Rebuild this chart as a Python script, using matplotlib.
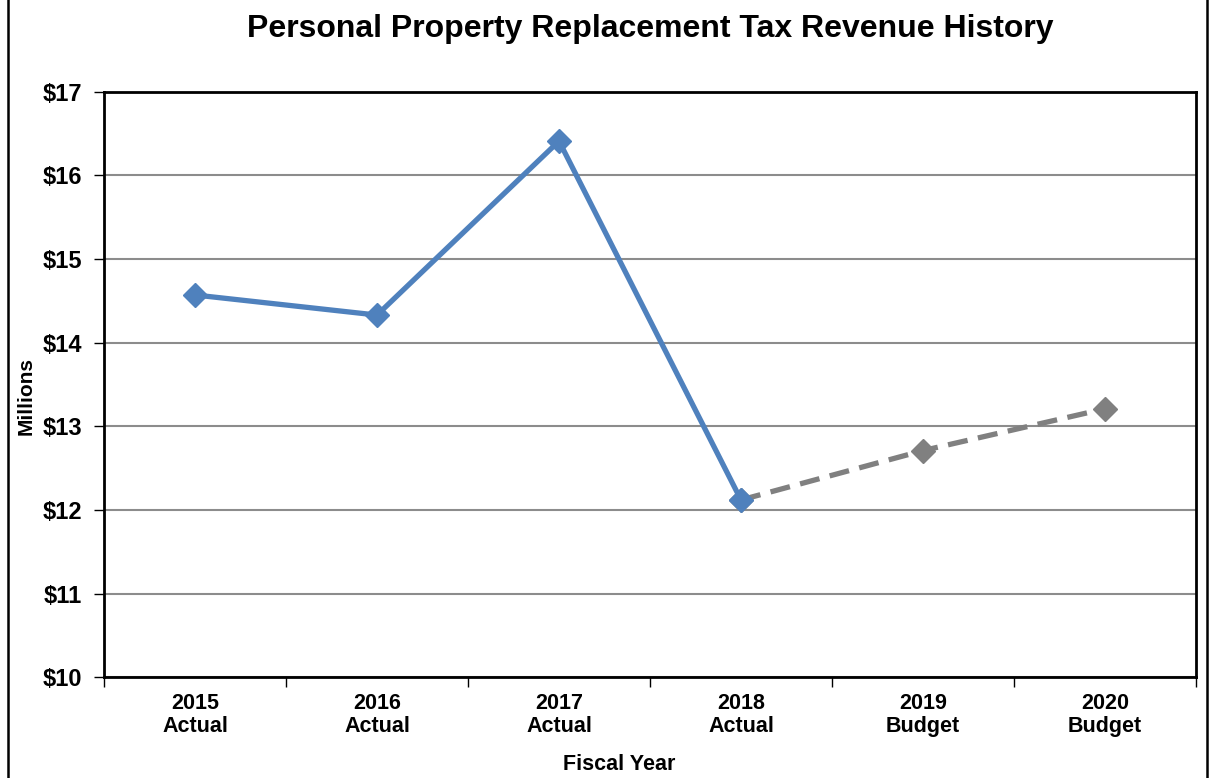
import matplotlib
matplotlib.use("Agg")
import matplotlib.pyplot as plt
from matplotlib.patches import Rectangle

# revenue, millions of dollars
years = ["2015\nActual", "2016\nActual", "2017\nActual", "2018\nActual", "2019\nBudget", "2020\nBudget"]
actual = [14.57, 14.33, 16.41, 12.12]
budget = [12.12, 12.71, 13.21]

plt.rcParams['font.family'] = ['Liberation Sans', 'DejaVu Sans']
plt.rcParams['font.weight'] = 'bold'

fig = plt.figure(figsize=(12.12, 7.78), dpi=100)
ax = fig.add_axes([104 / 1212, 1 - 677.3 / 778, 1092 / 1212, 585.6 / 778])

x_act = list(range(len(actual)))
x_bud = list(range(len(actual) - 1, len(years)))

ax.plot(x_bud, budget, color='#808080', lw=3.8, ls=(0, (3.8, 2.0)), marker='D', ms=12.5, zorder=3)
ax.plot(x_act, actual, color='#4F81BD', lw=3.8, marker='D', ms=12.5, zorder=4)

ax.set_xlim(-0.5, len(years) - 0.5)
ax.set_ylim(10, 17)
ax.set_yticks(range(10, 18))
ax.set_yticklabels(['${}'.format(v) for v in range(10, 18)], fontsize=17, fontweight='bold')
ax.set_xticks(range(len(years)))
ax.set_xticklabels(years, fontsize=15.5, fontweight='bold', linespacing=1.15)
ax.set_xticks([i - 0.5 for i in range(len(years) + 1)], minor=True)
ax.tick_params(axis='x', which='major', length=0, pad=11)
ax.tick_params(axis='x', which='minor', length=7, width=1, direction='out')
ax.tick_params(axis='y', length=7, width=1, direction='out', pad=9)

ax.grid(axis='y', color='#8c8c8c', lw=1.5)
ax.set_axisbelow(True)
for s in ax.spines.values():
    s.set_linewidth(2)
    s.set_color('black')

# axis titles sit where the original puts them, not centred on the axes
fig.text(26 / 1212, 1 - 396 / 778, 'Millions', rotation=90, ha='center', va='center',
         fontsize=15, fontweight='bold')
fig.text(619 / 1212, 1 - 764 / 778, 'Fiscal Year', ha='center', va='center',
         fontsize=15.5, fontweight='bold')
fig.text(650 / 1212, 1 - 29 / 778, 'Personal Property Replacement Tax Revenue History',
         ha='center', va='center', fontsize=23, fontweight='bold')

# border around the chart
fig.patches.append(Rectangle((7.5 / 1212, -0.05), 1199 / 1212, 1.2, transform=fig.transFigure,
                             fill=False, ec='black', lw=1.8))

fig.savefig('out.png', dpi=100)
